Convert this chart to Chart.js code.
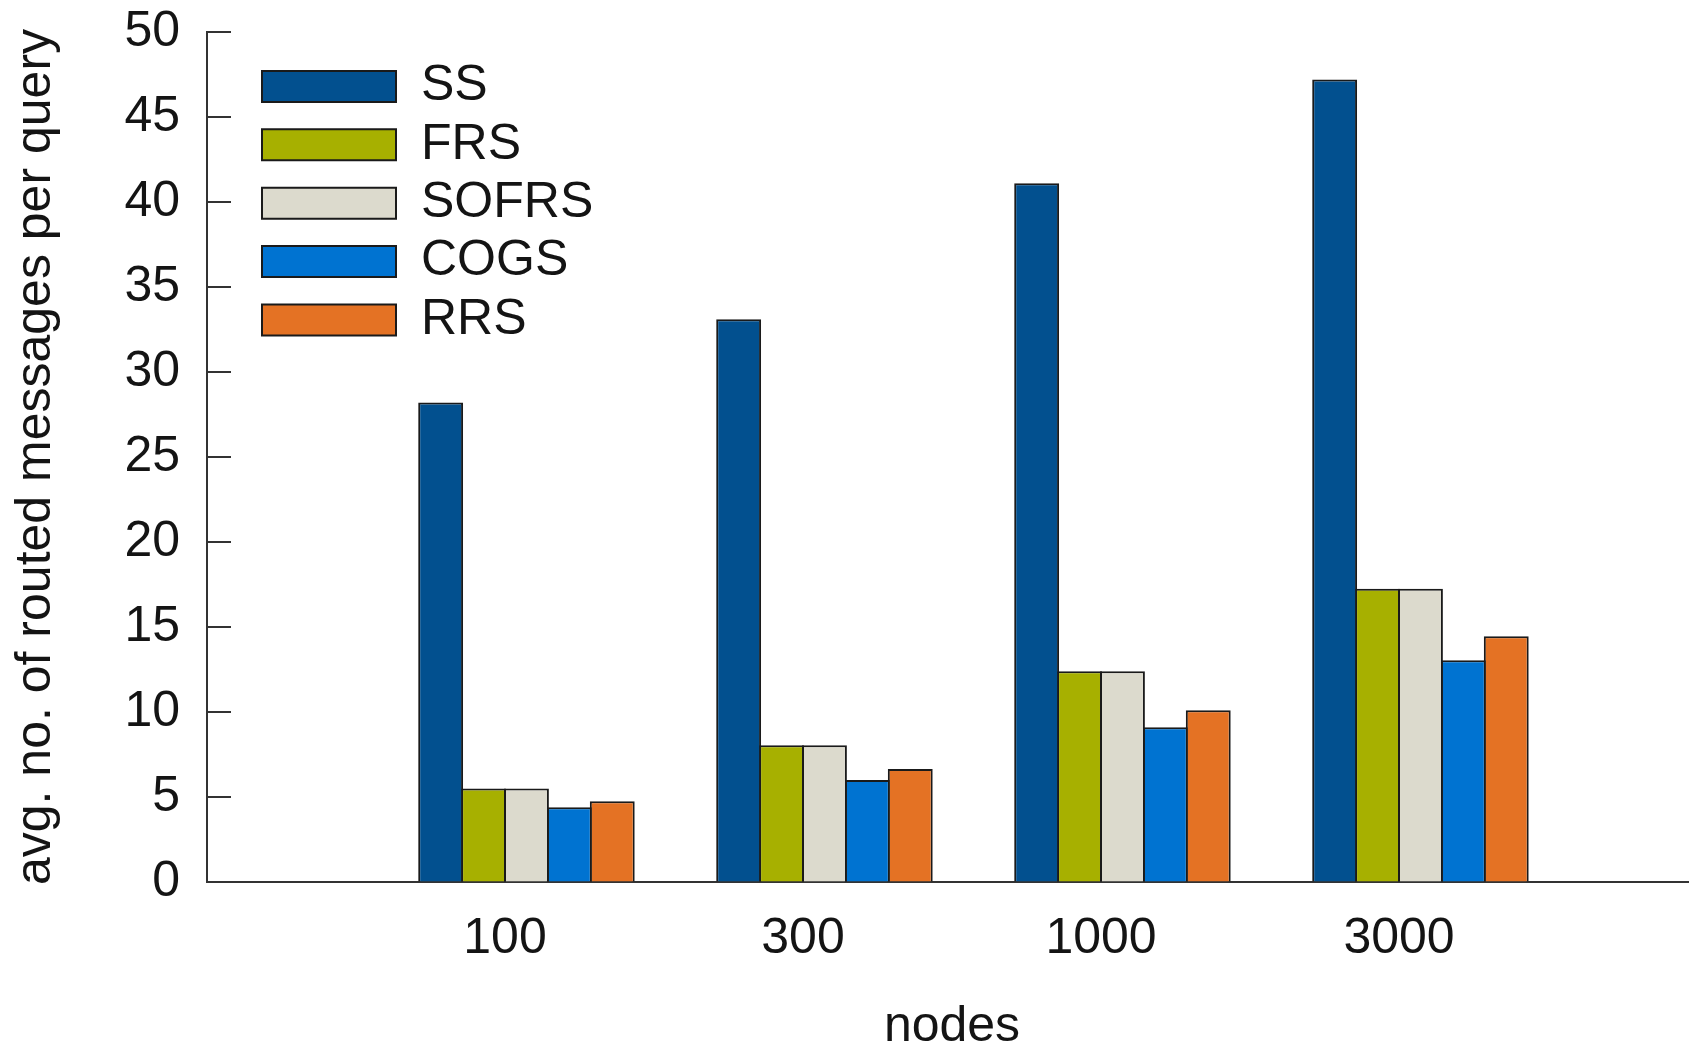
<!DOCTYPE html>
<html>
<head>
<meta charset="utf-8">
<script src="https://cdn.jsdelivr.net/npm/chart.js@4/dist/chart.umd.min.js"></script>
<style>
  html, body { margin: 0; padding: 0; background: #ffffff; overflow: hidden; }
  canvas { display: block; }
</style>
</head>
<body>
<!-- the x axis runs on a few pixels past the right edge of the window -->
<canvas id="chart" width="1697" height="1045"></canvas>
<script>
// Network sizes (x categories)
const nodeCounts = ['100', '300', '1000', '3000'];

// Average number of routed messages per query, one array per scheme
const ssValues    = [28.2, 33.1, 41.1, 47.2];
const frsValues   = [5.5, 8.05, 12.4, 17.25];
const sofrsValues = [5.5, 8.05, 12.4, 17.25];
const cogsValues  = [4.4, 6.0, 9.1, 13.05];
const rrsValues   = [4.75, 6.65, 10.1, 14.45];

const seriesNames  = ['SS', 'FRS', 'SOFRS', 'COGS', 'RRS'];
const seriesValues = [ssValues, frsValues, sofrsValues, cogsValues, rrsValues];
const seriesColors = ['#02508f', '#a7b000', '#dcdacd', '#0073d1', '#e47224'];

// y axis range
const yMin = 0, yMax = 50, yStep = 5;

const FONT = "'Liberation Sans', Arial, Helvetica, sans-serif";
const INK = '#141414';
const AXIS = '#333333';

// Empty lead and tail positions give the axis room on both sides of the groups
const xLabels = [''].concat(nodeCounts, ['']);

const toPoints = (vals) => nodeCounts.map((c, i) => ({ x: c, y: vals[i] }));

const datasets = [
  // empty leading slot in every group, so each tick sits between FRS and SOFRS
  {
    label: '',
    data: nodeCounts.map(c => ({ x: c, y: null })),
    backgroundColor: 'rgba(0,0,0,0)',
    borderWidth: 0
  }
].concat(seriesNames.map((name, k) => ({
  label: name,
  data: toPoints(seriesValues[k]),
  backgroundColor: seriesColors[k],
  borderColor: '#1a1a1a',
  borderWidth: 2,
  borderSkipped: 'start',
  inflateAmount: 0
})));

// short tick marks pointing into the plot from the y axis
const inwardTicks = {
  id: 'inwardTicks',
  afterDraw(chart) {
    const y = chart.scales.y;
    const { ctx, chartArea } = chart;
    ctx.save();
    ctx.strokeStyle = AXIS;
    ctx.lineWidth = 2;
    y.ticks.forEach((t, i) => {
      const py = Math.round(y.getPixelForTick(i));
      ctx.beginPath();
      ctx.moveTo(chartArea.left, py);
      ctx.lineTo(chartArea.left + 24, py);
      ctx.stroke();
    });
    ctx.restore();
  }
};

// legend block in the upper left of the plot area
const legendPlacement = {
  id: 'legendPlacement',
  afterLayout(chart) {
    const lg = chart.legend;
    const w = lg.width, h = lg.height;
    lg.left = 253.6;
    lg.top = 53;
    lg.right = lg.left + w;
    lg.bottom = lg.top + h;
  }
};

new Chart(document.getElementById('chart'), {
  type: 'bar',
  data: { labels: xLabels, datasets },
  plugins: [inwardTicks, legendPlacement],
  options: {
    responsive: false,
    devicePixelRatio: 1,
    animation: false,
    categoryPercentage: 0.8638,
    barPercentage: 1.0466,
    layout: { padding: { top: 32, right: 0, bottom: 0, left: 0 } },
    plugins: {
      tooltip: { enabled: false },
      legend: {
        position: 'chartArea',
        align: 'start',
        labels: {
          filter: (item) => item.text !== '',
          boxWidth: 134,
          boxHeight: 31,
          padding: 8.4,
          color: INK,
          font: { family: FONT, size: 50 }
        }
      }
    },
    scales: {
      x: {
        type: 'category',
        offset: false,
        grid: { display: true, drawOnChartArea: false, drawTicks: false },
        border: { display: true, color: AXIS, width: 2 },
        ticks: {
          autoSkip: false,
          maxRotation: 0,
          padding: 27,
          color: INK,
          font: { family: FONT, size: 50 }
        },
        title: {
          display: true,
          text: 'nodes',
          color: INK,
          font: { family: FONT, size: 50, lineHeight: 1 },
          padding: { top: 0, bottom: -7 }
        },
        afterFit(scale) {
          scale.height = 163;
          scale.paddingLeft = 0;
          scale.paddingRight = 0;
        }
      },
      y: {
        min: yMin,
        max: yMax,
        grid: { display: true, drawOnChartArea: false, drawTicks: false },
        border: { display: true, color: AXIS, width: 2 },
        ticks: {
          stepSize: yStep,
          padding: 27,
          color: INK,
          font: { family: FONT, size: 50 }
        },
        title: {
          display: true,
          text: 'avg. no. of routed messages per query',
          color: INK,
          font: { family: FONT, size: 50 },
          padding: { top: 6.5, bottom: 0 }
        },
        afterFit(scale) {
          scale.width = 207;
          scale.paddingTop = 0;
          scale.paddingBottom = 0;
        }
      }
    }
  }
});
</script>
</body>
</html>
